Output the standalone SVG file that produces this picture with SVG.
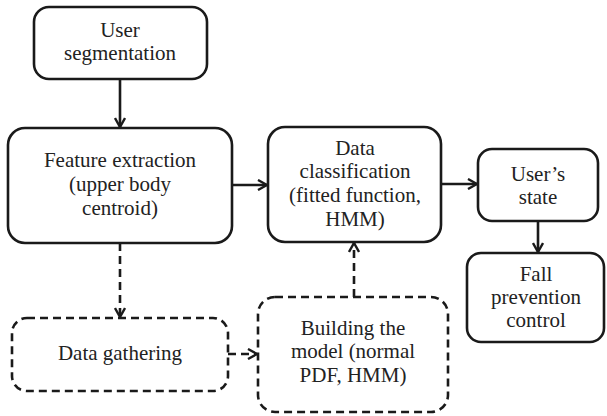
<svg xmlns="http://www.w3.org/2000/svg" width="607" height="416" viewBox="0 0 607 416">
<style>
.box{fill:#fff;stroke:#1a1a1a;stroke-width:2.6}
.dbox{fill:#fff;stroke:#1a1a1a;stroke-width:2.6;stroke-dasharray:8 5}
.t{font-family:'Liberation Serif','Times New Roman',serif;font-size:21px;fill:#222;text-anchor:middle}
.c{fill:none;stroke:#1a1a1a;stroke-width:2.6}
.d{fill:none;stroke:#1a1a1a;stroke-width:2.6;stroke-dasharray:8 5}
</style>
<defs>
<marker id="ah" viewBox="0 0 12 12" refX="11" refY="6" markerWidth="12" markerHeight="12" markerUnits="userSpaceOnUse" orient="auto">
<path d="M2,1 L11,6 L2,11" fill="none" stroke="#1a1a1a" stroke-width="2.4"/>
</marker>
</defs>
<rect width="607" height="416" fill="#fff"/>
<g id="connectors">
<line class="c" x1="120" y1="79" x2="120" y2="127" marker-end="url(#ah)"/>
<line class="c" x1="232" y1="185" x2="267" y2="185" marker-end="url(#ah)"/>
<line class="c" x1="441" y1="184" x2="477" y2="184" marker-end="url(#ah)"/>
<line class="c" x1="538" y1="221" x2="538" y2="252" marker-end="url(#ah)"/>
<line class="d" x1="120" y1="243" x2="120" y2="317" marker-end="url(#ah)"/>
<line class="d" x1="228" y1="354" x2="257" y2="354" marker-end="url(#ah)"/>
<line class="d" x1="354" y1="297" x2="354" y2="243" marker-end="url(#ah)"/>
</g>
<g id="user-segmentation">
<rect class="box" x="34" y="7" width="173" height="72" rx="15"/>
<text class="t" x="120" y="37">User</text>
<text class="t" x="120" y="60">segmentation</text>
</g>
<g id="feature-extraction">
<rect class="box" x="8" y="128" width="224" height="115" rx="17"/>
<text class="t" x="120" y="167">Feature extraction</text>
<text class="t" x="120" y="191">(upper body</text>
<text class="t" x="120" y="215">centroid)</text>
</g>
<g id="data-classification">
<rect class="box" x="268" y="127" width="173" height="115" rx="17"/>
<text class="t" x="355" y="155">Data</text>
<text class="t" x="355" y="178">classification</text>
<text class="t" x="355" y="202">(fitted function,</text>
<text class="t" x="355" y="226">HMM)</text>
</g>
<g id="users-state">
<rect class="box" x="478" y="149" width="120" height="72" rx="14"/>
<text class="t" x="538" y="181">User’s</text>
<text class="t" x="538" y="204">state</text>
</g>
<g id="fall-prevention">
<rect class="box" x="467" y="253" width="137" height="89" rx="14"/>
<text class="t" x="536" y="281">Fall</text>
<text class="t" x="536" y="304">prevention</text>
<text class="t" x="536" y="327">control</text>
</g>
<g id="data-gathering">
<rect class="dbox" x="12" y="318" width="216" height="73" rx="15"/>
<text class="t" x="120" y="360">Data gathering</text>
</g>
<g id="building-model">
<rect class="dbox" x="258" y="297" width="190" height="115" rx="17"/>
<text class="t" x="353" y="335">Building the</text>
<text class="t" x="353" y="358">model (normal</text>
<text class="t" x="353" y="382">PDF, HMM)</text>
</g>
</svg>
